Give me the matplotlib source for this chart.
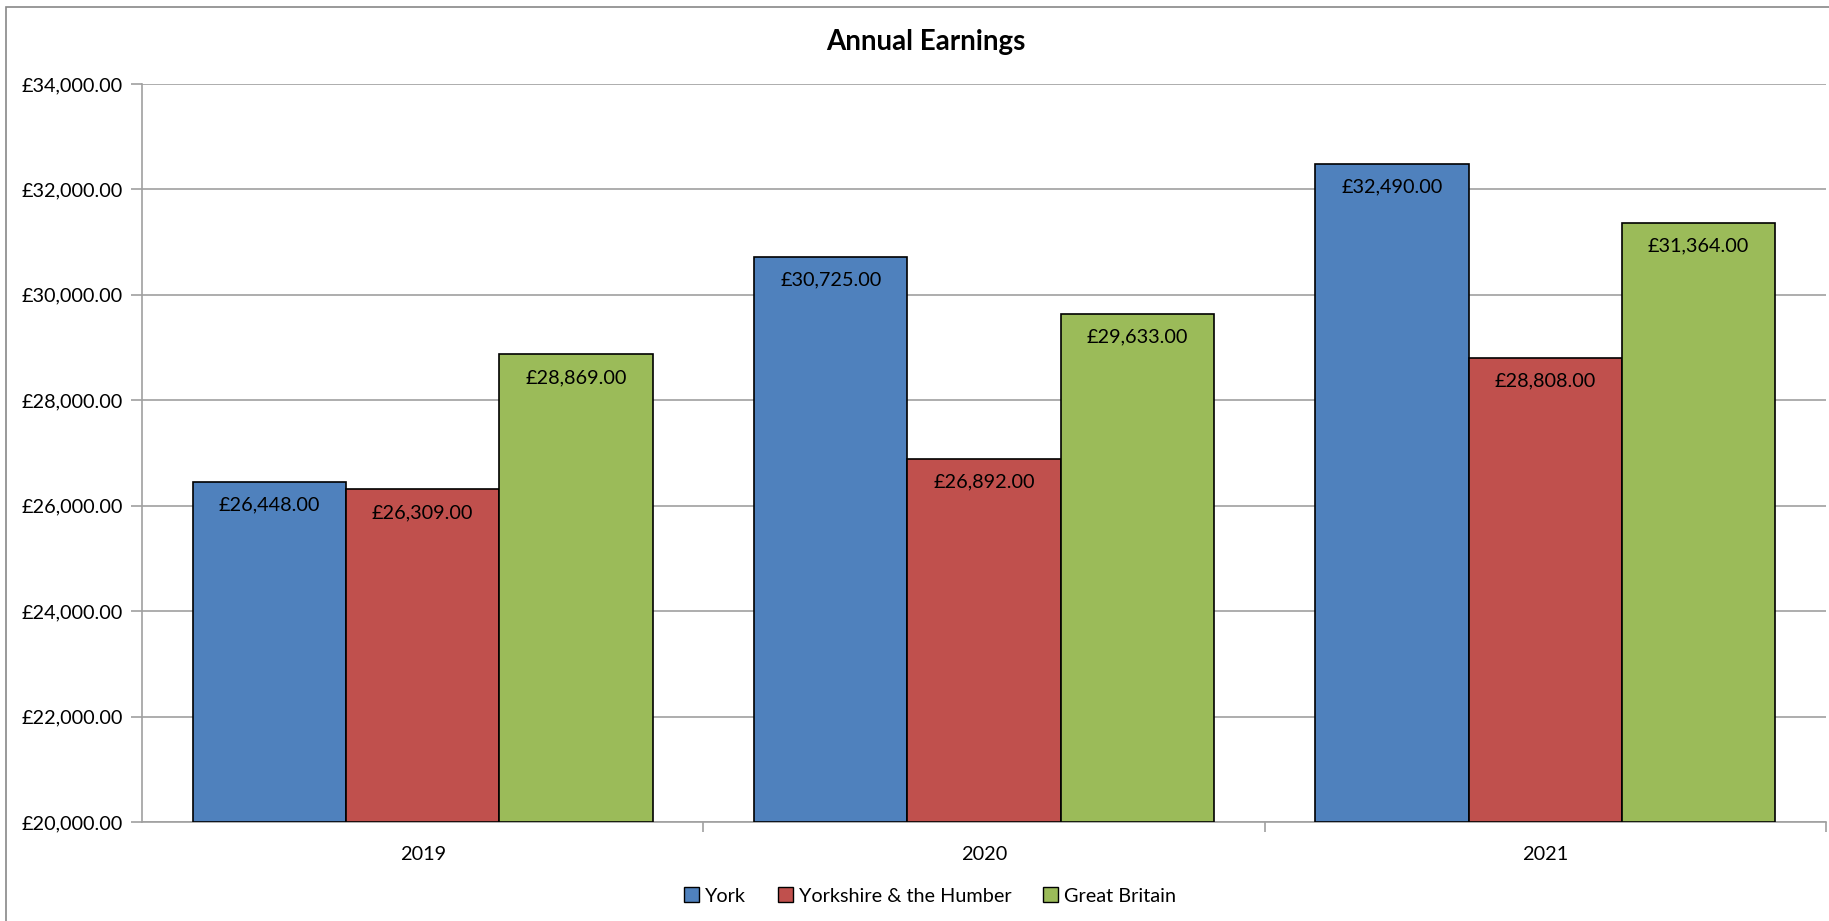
import matplotlib
matplotlib.use("Agg")
import matplotlib.pyplot as plt
from matplotlib.patches import Rectangle
import numpy as np

years = ["2019", "2020", "2021"]
series_names = ["York", "Yorkshire & the Humber", "Great Britain"]
york = [26448, 30725, 32490]
yorkshire = [26309, 26892, 28808]
gb = [28869, 29633, 31364]
colors = ["#4F81BD", "#C0504D", "#9BBB59"]

plt.rcParams['font.family'] = ['Lato', 'DejaVu Sans']

W, H = 1829, 921
FS = 14.3
fig = plt.figure(figsize=(W / 100, H / 100), dpi=100)
ax = fig.add_axes([142 / W, 1 - 822 / H, (1826 - 142) / W, (822 - 84) / H])

# outer chart frame
fig.patches.append(Rectangle((6 / W, -0.1), 1.2, (921 - 7) / H + 0.1, transform=fig.transFigure,
                             fill=False, edgecolor="#888888", linewidth=1.2))

x = np.arange(len(years))
bw = 0.273
data = [york, yorkshire, gb]
for i, (vals, name, c) in enumerate(zip(data, series_names, colors)):
    pos = x + (i - 1) * bw
    ax.bar(pos, np.array(vals) - 20000, bottom=20000, width=bw, color=c,
           edgecolor="black", linewidth=1.2, label=name, zorder=3)
    for p, v in zip(pos, vals):
        ax.annotate(f"£{v:,.2f}", (p, v), xytext=(0, -23), textcoords="offset pixels",
                    ha="center", va="center", fontsize=FS, zorder=4)

ax.set_xlim(-0.5, 2.5)
ax.set_ylim(20000, 34000)
ax.set_yticks(np.arange(20000, 34001, 2000))
ax.set_yticklabels([f"£{v:,.2f}" for v in np.arange(20000, 34001, 2000)], fontsize=FS)
ax.yaxis.grid(True, color="#A0A0A0", linewidth=1.2, zorder=0)
ax.set_axisbelow(True)

ax.set_xticks(x)
ax.set_xticklabels(years, fontsize=FS)
ax.tick_params(axis="x", length=0, pad=17)
ax.set_xticks([0.5, 1.5, 2.5], minor=True)
ax.tick_params(axis="x", which="minor", length=7, color="#A0A0A0", width=1.2)
ax.tick_params(axis="y", length=8, color="#A0A0A0", width=1.2, pad=6)

for s in ["top", "right"]:
    ax.spines[s].set_visible(False)
for s in ["left", "bottom"]:
    ax.spines[s].set_color("#A0A0A0")
    ax.spines[s].set_linewidth(1.2)

fig.text(926 / W, 1 - 42 / H, "Annual Earnings", ha="center", va="center",
         fontsize=20, fontweight="bold")

leg = fig.legend(loc="center", bbox_to_anchor=(930 / W, 1 - 896 / H), ncol=3,
                 frameon=False, fontsize=FS, handlelength=0.75, handleheight=0.75,
                 handletextpad=0.3, columnspacing=1.6)
for h in leg.legend_handles:
    h.set_linewidth(1.0)

fig.savefig("out.png", dpi=100)
